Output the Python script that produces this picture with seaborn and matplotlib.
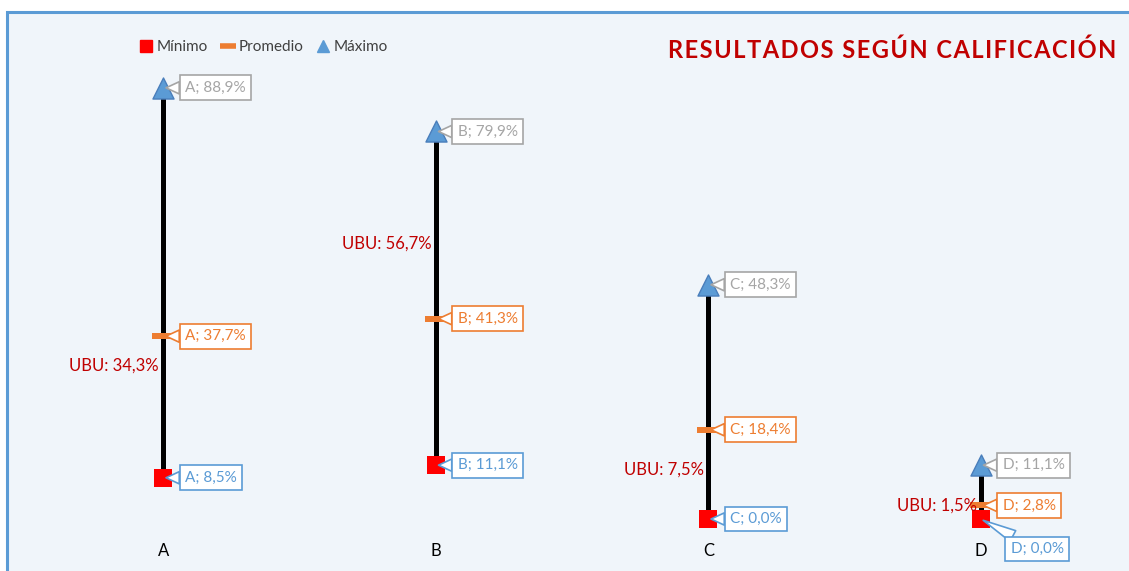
import matplotlib
matplotlib.use("Agg")
import matplotlib.pyplot as plt
from matplotlib.patches import Rectangle
from matplotlib.lines import Line2D
import pandas as pd
import seaborn as sns

# Datos del grafico (porcentajes)
categorias = ["A", "B", "C", "D"]
minimo = [8.5, 11.1, 0.0, 0.0]
promedio = [37.7, 41.3, 18.4, 2.8]
maximo = [88.9, 79.9, 48.3, 11.1]
ubu = [34.3, 56.7, 7.5, 1.5]

df = pd.DataFrame({"cat": range(len(categorias)), "letra": categorias,
                   "min": minimo, "prom": promedio, "max": maximo, "ubu": ubu})

sns.set_theme(style="white")
plt.rcParams["font.family"] = ["Lato", "DejaVu Sans"]

ROJO = "#FF0000"
NARANJA = "#ED7D31"
AZUL = "#5B9BD5"
GRIS = "#A5A5A5"
GRANATE = "#C00000"
PX = 0.72  # points per pixel at dpi 100

fig = plt.figure(figsize=(11.29, 5.71), dpi=100, facecolor="white")
# fondo del area del grafico con borde azul (solo izquierda y arriba visibles)
fig.patches.append(Rectangle((7 / 1129, -0.2), 1.2, 1.2 - 12 / 571,
                             transform=fig.transFigure, facecolor="#F0F5FA",
                             edgecolor=AZUL, linewidth=2.2, zorder=-1))
ax = fig.add_axes([27 / 1129, 52 / 571, 1090 / 1129, 485 / 571])
ax.set_facecolor("none")
ax.set_zorder(2)

# lineas min-max
ax.vlines(df["cat"], df["min"], df["max"], color="black", linewidth=5 * PX, zorder=1)

sns.scatterplot(data=df, x="cat", y="min", marker="s", s=150, color=ROJO,
                edgecolor=ROJO, linewidth=0, legend=False, ax=ax, zorder=3, clip_on=False)
sns.scatterplot(data=df, x="cat", y="prom", marker="_", s=260, color=NARANJA,
                linewidth=6 * PX, legend=False, ax=ax, zorder=3, clip_on=False)
sns.scatterplot(data=df, x="cat", y="max", marker="^", s=230, color=AZUL,
                edgecolor="#4A7EBB", linewidth=1, legend=False, ax=ax, zorder=3, clip_on=False)

def callout(x, y, txt, color, txtcolor, dx=15, dy=0):
    ax.annotate(txt, xy=(x, y), xytext=(dx * PX + 5, -dy * PX),
                textcoords="offset points", ha="left", va="center",
                fontsize=11, color=txtcolor, zorder=5,
                bbox=dict(boxstyle="square,pad=0.35", fc="white", ec=color, lw=1.2),
                arrowprops=dict(arrowstyle="wedge,tail_width=0.8", fc="white",
                                ec=color, lw=1.2, shrinkA=0, shrinkB=2))

def fmt(letra, v):
    return f"{letra}; {v:.1f}%".replace(".", ",")

for i, r in df.iterrows():
    callout(r["cat"], r["max"], fmt(r["letra"], r["max"]), GRIS, GRIS)
    callout(r["cat"], r["prom"], fmt(r["letra"], r["prom"]), NARANJA, NARANJA)
    if r["letra"] == "D":
        callout(r["cat"], r["min"], fmt(r["letra"], r["min"]), AZUL, AZUL, dx=23, dy=30)
    else:
        callout(r["cat"], r["min"], fmt(r["letra"], r["min"]), AZUL, AZUL)

# etiquetas UBU
ubu_dy = [-13, 0, 13, 6]
for i, r in df.iterrows():
    ax.annotate(f"UBU: {r['ubu']:.1f}%".replace(".", ","), xy=(r["cat"], r["ubu"]),
                xytext=(-3, ubu_dy[i] * PX), textcoords="offset points",
                ha="right", va="center", fontsize=12, color=GRANATE, zorder=4)

ax.set_xlim(-0.5, len(categorias) - 0.5)
ax.set_ylim(0, 100)
ax.set_xticks(df["cat"])
ax.set_xticklabels(categorias, fontsize=12, color="black")
ax.tick_params(axis="x", length=0, pad=17)
ax.set_yticks([])
ax.set_xlabel("")
ax.set_ylabel("")
sns.despine(ax=ax, left=True, bottom=True)

handles = [Line2D([], [], marker="s", color=ROJO, linestyle="none", markersize=9),
           Line2D([], [], marker="_", color=NARANJA, linestyle="none", markersize=11,
                  markeredgewidth=4),
           Line2D([], [], marker="^", color=AZUL, linestyle="none", markersize=9)]
leg = fig.legend(handles, ["Mínimo", "Promedio", "Máximo"], loc="center left",
                 bbox_to_anchor=(126 / 1129, 1 - 47 / 571), ncol=3, frameon=False,
                 fontsize=11, handlelength=0.8, handletextpad=0.3, columnspacing=0.9)
for t in leg.get_texts():
    t.set_color("#404040")

titulo = "\u200a".join("RESULTADOS SEGÚN CALIFICACIÓN")
fig.text(668 / 1129, 1 - 50 / 571, titulo, ha="left",
         va="center", fontsize=17, fontweight="bold", color=GRANATE)

fig.savefig("out.png", dpi=100, facecolor="white")
